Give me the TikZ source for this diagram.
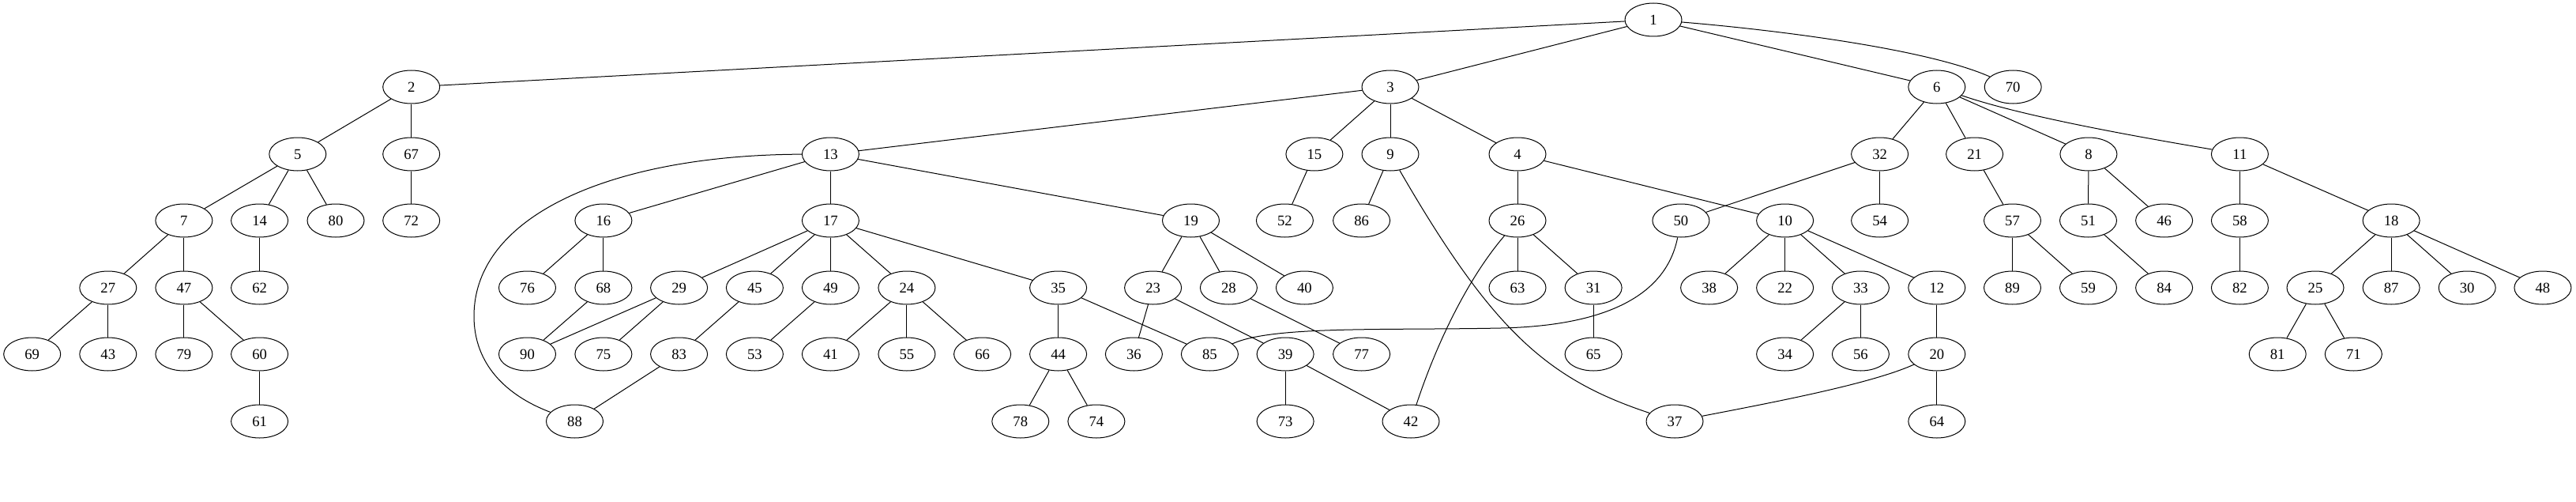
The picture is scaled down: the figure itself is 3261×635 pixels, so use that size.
\documentclass[tikz,border=0pt]{standalone}
\usepackage{fontspec}
\setmainfont{Liberation Serif}
\usetikzlibrary{shapes.geometric}
\tikzset{
  nd/.style={draw, ellipse, line width=0.75pt, minimum width=54pt, minimum height=31.5pt, inner sep=0pt, font=\fontsize{14}{16}\selectfont},
  ed/.style={line width=0.75pt}
}
\begin{document}
\begin{tikzpicture}[x=0.75pt,y=-0.75pt]
\useasboundingbox (0,0) rectangle (3261,635);
% row 0
\node[nd] (n1) at (2093,25) {1};
% row 1
\node[nd] (n2) at (520.7,110) {2};
\node[nd] (n3) at (1760,110) {3};
\node[nd] (n6) at (2451.8,110) {6};
\node[nd] (n70) at (2548.2,110) {70};
% row 2
\node[nd] (n5) at (376.8,195) {5};
\node[nd] (n67) at (520.7,195) {67};
\node[nd] (n13) at (1051.4,195) {13};
\node[nd] (n15) at (1663.9,195) {15};
\node[nd] (n9) at (1760,195) {9};
\node[nd] (n4) at (1921,195) {4};
\node[nd] (n32) at (2379.6,195) {32};
\node[nd] (n21) at (2499.6,195) {21};
\node[nd] (n8) at (2643.9,195) {8};
\node[nd] (n11) at (2835.4,195) {11};
% row 3
\node[nd] (n7) at (232.9,279) {7};
\node[nd] (n14) at (328.6,279) {14};
\node[nd] (n80) at (425,279) {80};
\node[nd] (n72) at (520.7,279) {72};
\node[nd] (n16) at (763.9,279) {16};
\node[nd] (n17) at (1051.4,279) {17};
\node[nd] (n19) at (1507.5,279) {19};
\node[nd] (n52) at (1626.4,279) {52};
\node[nd] (n86) at (1723.6,279) {86};
\node[nd] (n26) at (1921,279) {26};
\node[nd] (n50) at (2127.9,279) {50};
\node[nd] (n10) at (2259.6,279) {10};
\node[nd] (n54) at (2379.6,279) {54};
\node[nd] (n57) at (2547.5,279) {57};
\node[nd] (n51) at (2643.5,279) {51};
\node[nd] (n46) at (2739.6,279) {46};
\node[nd] (n58) at (2835.4,279) {58};
\node[nd] (n18) at (3027.1,279) {18};
% row 4
\node[nd] (n27) at (136.8,364) {27};
\node[nd] (n47) at (232.9,364) {47};
\node[nd] (n62) at (328.6,364) {62};
\node[nd] (n76) at (667.5,364) {76};
\node[nd] (n68) at (763.9,364) {68};
\node[nd] (n29) at (859.6,364) {29};
\node[nd] (n45) at (955.4,364) {45};
\node[nd] (n49) at (1051.4,364) {49};
\node[nd] (n24) at (1147.9,364) {24};
\node[nd] (n35) at (1339.6,364) {35};
\node[nd] (n23) at (1459.6,364) {23};
\node[nd] (n28) at (1555.4,364) {28};
\node[nd] (n40) at (1651.4,364) {40};
\node[nd] (n63) at (1921,364) {63};
\node[nd] (n31) at (2017.1,364) {31};
\node[nd] (n38) at (2163.6,364) {38};
\node[nd] (n22) at (2259.6,364) {22};
\node[nd] (n33) at (2355.4,364) {33};
\node[nd] (n12) at (2451.8,364) {12};
\node[nd] (n89) at (2547.5,364) {89};
\node[nd] (n59) at (2643.5,364) {59};
\node[nd] (n84) at (2739.6,364) {84};
\node[nd] (n82) at (2835.4,364) {82};
\node[nd] (n25) at (2931,364) {25};
\node[nd] (n87) at (3027.1,364) {87};
\node[nd] (n30) at (3123.2,364) {30};
\node[nd] (n48) at (3218.9,364) {48};
% row 5
\node[nd] (n69) at (40.7,448) {69};
\node[nd] (n43) at (136.8,448) {43};
\node[nd] (n79) at (232.9,448) {79};
\node[nd] (n60) at (328.6,448) {60};
\node[nd] (n90) at (667.5,448) {90};
\node[nd] (n75) at (763.9,448) {75};
\node[nd] (n83) at (859.6,448) {83};
\node[nd] (n53) at (955.4,448) {53};
\node[nd] (n41) at (1051.4,448) {41};
\node[nd] (n55) at (1147.9,448) {55};
\node[nd] (n66) at (1243.6,448) {66};
\node[nd] (n44) at (1339.6,448) {44};
\node[nd] (n36) at (1435.4,448) {36};
\node[nd] (n85) at (1531.4,448) {85};
\node[nd] (n39) at (1627.1,448) {39};
\node[nd] (n77) at (1723.6,448) {77};
\node[nd] (n65) at (2017.1,448) {65};
\node[nd] (n34) at (2259.6,448) {34};
\node[nd] (n56) at (2355.4,448) {56};
\node[nd] (n20) at (2451.8,448) {20};
\node[nd] (n81) at (2883.2,448) {81};
\node[nd] (n71) at (2979.3,448) {71};
% row 6
\node[nd] (n61) at (328.6,533) {61};
\node[nd] (n88) at (727.5,533) {88};
\node[nd] (n78) at (1291.8,533) {78};
\node[nd] (n74) at (1387.9,533) {74};
\node[nd] (n73) at (1627.1,533) {73};
\node[nd] (n42) at (1786,533) {42};
\node[nd] (n37) at (2120,533) {37};
\node[nd] (n64) at (2451.8,533) {64};

% straight edges
\foreach \a/\b in {1/2,1/3,1/6,2/5,2/67,3/13,3/15,3/9,3/4,6/32,6/21,6/8,
  5/7,5/14,5/80,67/72,13/16,13/17,13/19,15/52,9/86,4/26,4/10,32/50,32/54,
  21/57,8/51,8/46,11/58,11/18,7/27,7/47,14/62,16/76,16/68,
  17/29,17/45,17/49,17/24,17/35,19/23,19/28,19/40,26/63,26/31,
  10/38,10/22,10/33,10/12,57/89,57/59,51/84,58/82,18/25,18/87,18/30,18/48,
  27/69,27/43,47/79,47/60,68/90,29/90,29/75,45/83,49/53,24/41,24/55,24/66,
  35/44,35/85,23/36,23/39,28/77,31/65,33/34,33/56,12/20,25/81,25/71,
  60/61,83/88,44/78,44/74,39/73,39/42,20/64}
  \draw[ed] (n\a) -- (n\b);

% curved edges
\draw[ed] (n1) .. controls (2250,38) and (2440,62) .. (n70);
\draw[ed] (n6) .. controls (2560,147) and (2700,172) .. (n11);
\draw[ed] (n13) .. controls (780,196) and (600,270) .. (600,400)
  .. controls (600,460) and (640,500) .. (n88);
\draw[ed] (n9) .. controls (1890,420) and (1960,480) .. (n37);
\draw[ed] (n26) .. controls (1860,350) and (1820,430) .. (n42);
\draw[ed] (n50) .. controls (2110,370) and (2040,412) .. (1900,415)
  .. controls (1750,418) and (1610,412) .. (n85);
\draw[ed] (n20) .. controls (2370,485) and (2250,508) .. (n37);
\end{tikzpicture}
\end{document}
